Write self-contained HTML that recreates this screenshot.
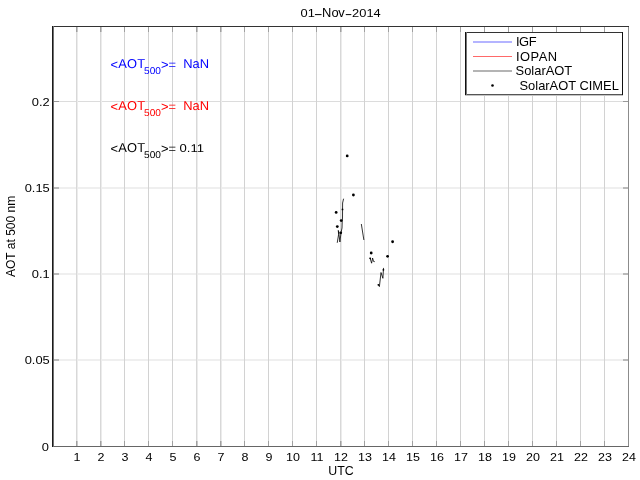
<!DOCTYPE html>
<html lang="en"><head><meta charset="utf-8"><title>01-Nov-2014</title>
<style>
html,body{margin:0;padding:0;background:#fff;}
body{width:640px;height:480px;overflow:hidden;}
svg{display:block;}
text{font-family:"Liberation Sans",sans-serif;font-size:12.9px;fill:#000;}
.sub{font-size:9.9px;}
.dg{font-size:11.4px;}
</style></head><body>
<svg width="640" height="480" viewBox="0 0 640 480">
<rect width="640" height="480" fill="#fff"/>
<g shape-rendering="crispEdges">
<rect x="54" y="101" width="574" height="1" fill="#dcdcdc"/>
<rect x="54" y="101" width="5" height="1" fill="#999999"/>
<rect x="623" y="101" width="5" height="1" fill="#999999"/>
<rect x="54" y="187" width="574" height="2" fill="#efefef"/>
<rect x="54" y="187" width="5" height="2" fill="#bababa"/>
<rect x="623" y="187" width="5" height="2" fill="#bababa"/>
<rect x="54" y="273" width="574" height="2" fill="#efefef"/>
<rect x="54" y="273" width="5" height="2" fill="#bababa"/>
<rect x="623" y="273" width="5" height="2" fill="#bababa"/>
<rect x="54" y="359" width="574" height="2" fill="#efefef"/>
<rect x="54" y="359" width="5" height="2" fill="#bababa"/>
<rect x="623" y="359" width="5" height="2" fill="#bababa"/>
<rect x="77" y="27" width="1" height="419" fill="#ececec"/>
<rect x="77" y="27" width="1" height="5" fill="#c6c6c6"/>
<rect x="77" y="441" width="1" height="5" fill="#c6c6c6"/>
<rect x="76" y="27" width="1" height="419" fill="#d8d8d8"/>
<rect x="76" y="27" width="1" height="5" fill="#a0a0a0"/>
<rect x="76" y="441" width="1" height="5" fill="#a0a0a0"/>
<rect x="101" y="27" width="1" height="419" fill="#ececec"/>
<rect x="101" y="27" width="1" height="5" fill="#c6c6c6"/>
<rect x="101" y="441" width="1" height="5" fill="#c6c6c6"/>
<rect x="100" y="27" width="1" height="419" fill="#d8d8d8"/>
<rect x="100" y="27" width="1" height="5" fill="#a0a0a0"/>
<rect x="100" y="441" width="1" height="5" fill="#a0a0a0"/>
<rect x="124" y="27" width="1" height="419" fill="#d2d2d2"/>
<rect x="124" y="27" width="1" height="5" fill="#a0a0a0"/>
<rect x="124" y="441" width="1" height="5" fill="#a0a0a0"/>
<rect x="148" y="27" width="1" height="419" fill="#d2d2d2"/>
<rect x="148" y="27" width="1" height="5" fill="#a0a0a0"/>
<rect x="148" y="441" width="1" height="5" fill="#a0a0a0"/>
<rect x="172" y="27" width="1" height="419" fill="#d2d2d2"/>
<rect x="172" y="27" width="1" height="5" fill="#a0a0a0"/>
<rect x="172" y="441" width="1" height="5" fill="#a0a0a0"/>
<rect x="197" y="27" width="1" height="419" fill="#ececec"/>
<rect x="197" y="27" width="1" height="5" fill="#c6c6c6"/>
<rect x="197" y="441" width="1" height="5" fill="#c6c6c6"/>
<rect x="196" y="27" width="1" height="419" fill="#d8d8d8"/>
<rect x="196" y="27" width="1" height="5" fill="#a0a0a0"/>
<rect x="196" y="441" width="1" height="5" fill="#a0a0a0"/>
<rect x="221" y="27" width="1" height="419" fill="#ececec"/>
<rect x="221" y="27" width="1" height="5" fill="#c6c6c6"/>
<rect x="221" y="441" width="1" height="5" fill="#c6c6c6"/>
<rect x="220" y="27" width="1" height="419" fill="#d8d8d8"/>
<rect x="220" y="27" width="1" height="5" fill="#a0a0a0"/>
<rect x="220" y="441" width="1" height="5" fill="#a0a0a0"/>
<rect x="244" y="27" width="1" height="419" fill="#d2d2d2"/>
<rect x="244" y="27" width="1" height="5" fill="#a0a0a0"/>
<rect x="244" y="441" width="1" height="5" fill="#a0a0a0"/>
<rect x="268" y="27" width="1" height="419" fill="#d2d2d2"/>
<rect x="268" y="27" width="1" height="5" fill="#a0a0a0"/>
<rect x="268" y="441" width="1" height="5" fill="#a0a0a0"/>
<rect x="292" y="27" width="1" height="419" fill="#d2d2d2"/>
<rect x="292" y="27" width="1" height="5" fill="#a0a0a0"/>
<rect x="292" y="441" width="1" height="5" fill="#a0a0a0"/>
<rect x="316" y="27" width="1" height="419" fill="#d2d2d2"/>
<rect x="316" y="27" width="1" height="5" fill="#a0a0a0"/>
<rect x="316" y="441" width="1" height="5" fill="#a0a0a0"/>
<rect x="341" y="27" width="1" height="419" fill="#ececec"/>
<rect x="341" y="27" width="1" height="5" fill="#c6c6c6"/>
<rect x="341" y="441" width="1" height="5" fill="#c6c6c6"/>
<rect x="340" y="27" width="1" height="419" fill="#d8d8d8"/>
<rect x="340" y="27" width="1" height="5" fill="#a0a0a0"/>
<rect x="340" y="441" width="1" height="5" fill="#a0a0a0"/>
<rect x="364" y="27" width="1" height="419" fill="#d2d2d2"/>
<rect x="364" y="27" width="1" height="5" fill="#a0a0a0"/>
<rect x="364" y="441" width="1" height="5" fill="#a0a0a0"/>
<rect x="388" y="27" width="1" height="419" fill="#d2d2d2"/>
<rect x="388" y="27" width="1" height="5" fill="#a0a0a0"/>
<rect x="388" y="441" width="1" height="5" fill="#a0a0a0"/>
<rect x="412" y="27" width="1" height="419" fill="#d2d2d2"/>
<rect x="412" y="27" width="1" height="5" fill="#a0a0a0"/>
<rect x="412" y="441" width="1" height="5" fill="#a0a0a0"/>
<rect x="436" y="27" width="1" height="419" fill="#d2d2d2"/>
<rect x="436" y="27" width="1" height="5" fill="#a0a0a0"/>
<rect x="436" y="441" width="1" height="5" fill="#a0a0a0"/>
<rect x="460" y="27" width="1" height="419" fill="#d2d2d2"/>
<rect x="460" y="27" width="1" height="5" fill="#a0a0a0"/>
<rect x="460" y="441" width="1" height="5" fill="#a0a0a0"/>
<rect x="484" y="27" width="1" height="419" fill="#d2d2d2"/>
<rect x="484" y="27" width="1" height="5" fill="#a0a0a0"/>
<rect x="484" y="441" width="1" height="5" fill="#a0a0a0"/>
<rect x="508" y="27" width="1" height="419" fill="#d2d2d2"/>
<rect x="508" y="27" width="1" height="5" fill="#a0a0a0"/>
<rect x="508" y="441" width="1" height="5" fill="#a0a0a0"/>
<rect x="532" y="27" width="1" height="419" fill="#d2d2d2"/>
<rect x="532" y="27" width="1" height="5" fill="#a0a0a0"/>
<rect x="532" y="441" width="1" height="5" fill="#a0a0a0"/>
<rect x="556" y="27" width="1" height="419" fill="#d2d2d2"/>
<rect x="556" y="27" width="1" height="5" fill="#a0a0a0"/>
<rect x="556" y="441" width="1" height="5" fill="#a0a0a0"/>
<rect x="580" y="27" width="1" height="419" fill="#d2d2d2"/>
<rect x="580" y="27" width="1" height="5" fill="#a0a0a0"/>
<rect x="580" y="441" width="1" height="5" fill="#a0a0a0"/>
<rect x="604" y="27" width="1" height="419" fill="#d2d2d2"/>
<rect x="604" y="27" width="1" height="5" fill="#a0a0a0"/>
<rect x="604" y="441" width="1" height="5" fill="#a0a0a0"/>
</g>
<g shape-rendering="crispEdges">
<rect x="628" y="26" width="1" height="421" fill="#8c8c8c"/>
<rect x="52" y="446" width="577" height="1" fill="#666"/>
<rect x="52" y="26" width="577" height="1" fill="#333"/>
<rect x="53" y="26" width="1" height="421" fill="#707070"/>
<rect x="52" y="26" width="1" height="421" fill="#1a1a1a"/>
</g>
<text x="300.6" y="17"><tspan class="dg" textLength="14.3" lengthAdjust="spacingAndGlyphs">01</tspan><tspan dx="-1.1" dy="1" textLength="9" lengthAdjust="spacingAndGlyphs">-</tspan><tspan dx="-0.7 0 -0.4" dy="-1">Nov</tspan><tspan dx="0.1" dy="1" textLength="7.6" lengthAdjust="spacingAndGlyphs">-</tspan><tspan class="dg" dx="-0.2" dy="-1" textLength="28.6" lengthAdjust="spacingAndGlyphs">2014</tspan></text>
<text transform="translate(77.0,461.0) scale(0.97,0.88)" text-anchor="middle">1</text>
<text transform="translate(101.0,461.0) scale(0.97,0.88)" text-anchor="middle">2</text>
<text transform="translate(125.0,461.0) scale(0.97,0.88)" text-anchor="middle">3</text>
<text transform="translate(149.0,461.0) scale(0.97,0.88)" text-anchor="middle">4</text>
<text transform="translate(173.0,461.0) scale(0.97,0.88)" text-anchor="middle">5</text>
<text transform="translate(197.0,461.0) scale(0.97,0.88)" text-anchor="middle">6</text>
<text transform="translate(221.0,461.0) scale(0.97,0.88)" text-anchor="middle">7</text>
<text transform="translate(245.0,461.0) scale(0.97,0.88)" text-anchor="middle">8</text>
<text transform="translate(269.0,461.0) scale(0.97,0.88)" text-anchor="middle">9</text>
<text transform="translate(293.0,461.0) scale(0.97,0.88)" text-anchor="middle">10</text>
<text transform="translate(317.0,461.0) scale(0.97,0.88)" text-anchor="middle">11</text>
<text transform="translate(341.0,461.0) scale(0.97,0.88)" text-anchor="middle">12</text>
<text transform="translate(365.0,461.0) scale(0.97,0.88)" text-anchor="middle">13</text>
<text transform="translate(389.0,461.0) scale(0.97,0.88)" text-anchor="middle">14</text>
<text transform="translate(413.0,461.0) scale(0.97,0.88)" text-anchor="middle">15</text>
<text transform="translate(437.0,461.0) scale(0.97,0.88)" text-anchor="middle">16</text>
<text transform="translate(461.0,461.0) scale(0.97,0.88)" text-anchor="middle">17</text>
<text transform="translate(485.0,461.0) scale(0.97,0.88)" text-anchor="middle">18</text>
<text transform="translate(509.0,461.0) scale(0.97,0.88)" text-anchor="middle">19</text>
<text transform="translate(533.0,461.0) scale(0.97,0.88)" text-anchor="middle">20</text>
<text transform="translate(557.0,461.0) scale(0.97,0.88)" text-anchor="middle">21</text>
<text transform="translate(581.0,461.0) scale(0.97,0.88)" text-anchor="middle">22</text>
<text transform="translate(605.0,461.0) scale(0.97,0.88)" text-anchor="middle">23</text>
<text transform="translate(629.0,461.0) scale(0.97,0.88)" text-anchor="middle">24</text>
<text transform="translate(341,475) scale(0.96,1)" text-anchor="middle">UTC</text>
<text transform="translate(48.9,450.5) scale(1,0.88)" text-anchor="end">0</text>
<text transform="translate(49.8,364.0) scale(1,0.88)" text-anchor="end">0.05</text>
<text transform="translate(49.8,278.0) scale(1,0.88)" text-anchor="end">0.1</text>
<text transform="translate(49.8,192.0) scale(1,0.88)" text-anchor="end">0.15</text>
<text transform="translate(49.8,105.5) scale(1,0.88)" text-anchor="end">0.2</text>
<text transform="translate(15.4,236.4) rotate(-90) scale(0.934,1.06)" text-anchor="middle">AOT at 500 nm</text>
<text x="110.4" y="68" dx="0 0.2 0.2 0.2" dy="0.9 -0.9 0 0" style="fill:#0000ff;text-rendering:geometricPrecision">&lt;AOT<tspan class="sub" dx="-1" dy="6.2" textLength="16.9" lengthAdjust="spacingAndGlyphs">500</tspan><tspan dy="-5.3">&gt;=</tspan><tspan dx="0" dy="-0.9"> &#160;NaN</tspan></text>
<text x="110.4" y="110" dx="0 0.2 0.2 0.2" dy="0.9 -0.9 0 0" style="fill:#ff0000;text-rendering:geometricPrecision">&lt;AOT<tspan class="sub" dx="-1" dy="6.2" textLength="16.9" lengthAdjust="spacingAndGlyphs">500</tspan><tspan dy="-5.3">&gt;=</tspan><tspan dx="0" dy="-0.9"> &#160;NaN</tspan></text>
<text x="110.4" y="152" dx="0 0.2 0.2 0.2" dy="0.9 -0.9 0 0" style="fill:#000;text-rendering:geometricPrecision">&lt;AOT<tspan class="sub" dx="-1" dy="6.2" textLength="16.9" lengthAdjust="spacingAndGlyphs">500</tspan><tspan dy="-5.3">&gt;=</tspan><tspan dy="-0.9"> </tspan><tspan class="dg" textLength="24.5" lengthAdjust="spacingAndGlyphs">0.11</tspan></text>
<g fill="none" stroke="#000" stroke-width="0.8" stroke-linejoin="round" stroke-linecap="round">
<polyline points="343.5,199.1 342.6,203 342.5,218 342.2,222 342,228 341.2,232 340.5,237 339.9,242 339.2,236 338.3,230.4 338.6,234.5 337.3,242.4"/>
<polyline points="361.4,224.4 363.8,239.6"/>
<polyline points="370.1,258.2 371.6,263.2 372.6,258 373.5,261.4 374.4,261.6"/>
<polyline points="378.5,284.8 379.4,286.6 381,272.5 382.9,278.3 383.5,268.3"/>
</g>
<g fill="#000">
<circle cx="347.2" cy="155.9" r="1.4"/>
<circle cx="353.4" cy="195" r="1.4"/>
<circle cx="336.15" cy="212.45" r="1.4"/>
<circle cx="341.2" cy="220.6" r="1.4"/>
<circle cx="337.3" cy="226.6" r="1.4"/>
<circle cx="340.7" cy="232.8" r="1.4"/>
<circle cx="371.2" cy="253.0" r="1.4"/>
<circle cx="387.6" cy="256.3" r="1.4"/>
<circle cx="392.6" cy="241.75" r="1.4"/>
<circle cx="378.4" cy="284.8" r="0.9"/>
<circle cx="383.4" cy="269.8" r="0.9"/>
<circle cx="370.2" cy="258.3" r="0.9"/>
<circle cx="342.5" cy="209.4" r="0.9"/>
</g>
<rect x="465" y="32" width="158" height="63" fill="#fff"/>
<g shape-rendering="crispEdges">
<rect x="465" y="95" width="158" height="1" fill="#c4c4c4"/>
<rect x="465" y="94" width="158" height="1" fill="#555"/>
<rect x="465" y="32" width="158" height="1" fill="#333"/>
<rect x="622" y="32" width="1" height="63" fill="#111"/>
<rect x="466" y="32" width="1" height="63" fill="#777"/>
<rect x="465" y="32" width="1" height="63" fill="#111"/>
</g>
<g stroke-width="0.59">
<line x1="473" y1="42" x2="512" y2="42" stroke="#0000ff"/>
<line x1="473" y1="56.5" x2="512" y2="56.5" stroke="#ff0000"/>
<line x1="473" y1="71" x2="512" y2="71" stroke="#000000"/>
</g>
<circle cx="492.5" cy="85.5" r="1.3" fill="#000"/>
<text x="516" y="45.6" textLength="20.5" lengthAdjust="spacing">IGF</text>
<text x="516" y="60.7" textLength="41.1" lengthAdjust="spacing">IOPAN</text>
<text x="515.6" y="75">SolarAOT</text>
<text x="519.5" y="90">SolarAOT CIMEL</text>
</svg>
</body></html>
